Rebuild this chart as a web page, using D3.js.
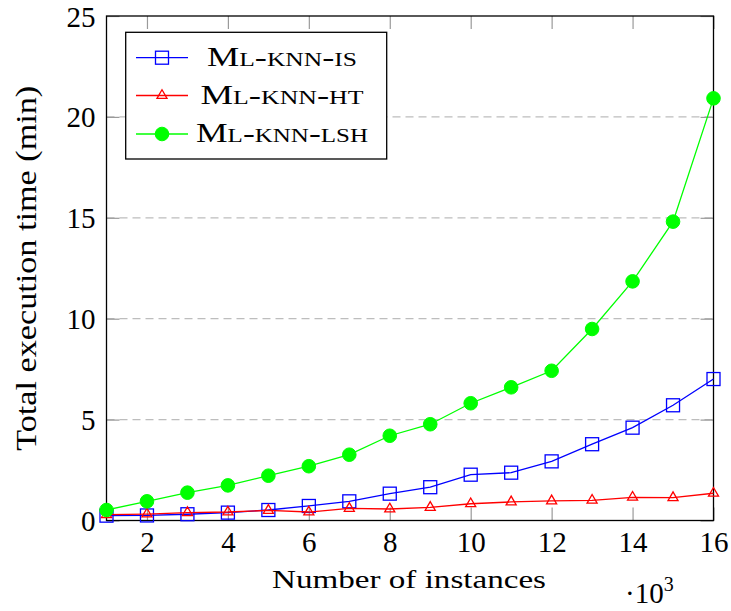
<!DOCTYPE html>
<html>
<head>
<meta charset="utf-8">
<script src="https://cdn.jsdelivr.net/npm/d3@7"></script>
<style>
  html, body { margin: 0; padding: 0; background: #fff; }
  svg { display: block; }
</style>
</head>
<body>
<svg id="chart" width="731" height="611"></svg>
<script>
// ---- Data ----
const instances = [1, 2, 3, 4, 5, 6, 7, 8, 9, 10, 11, 12, 13, 14, 15, 16];
const mlknnIS  = [0.24, 0.25, 0.31, 0.39, 0.52, 0.72, 0.95, 1.33, 1.65, 2.27, 2.37, 2.93, 3.78, 4.60, 5.71, 7.01];
const mlknnHT  = [0.29, 0.32, 0.39, 0.42, 0.50, 0.42, 0.60, 0.57, 0.65, 0.83, 0.92, 0.97, 1.00, 1.15, 1.13, 1.35];
const mlknnLSH = [0.52, 0.95, 1.38, 1.74, 2.22, 2.69, 3.26, 4.20, 4.77, 5.81, 6.60, 7.42, 9.49, 11.85, 14.81, 20.92];
const seriesNames = ["Ml-knn-is", "Ml-knn-ht", "Ml-knn-lsh"];
const xTicks = [2, 4, 6, 8, 10, 12, 14, 16];
const yTicks = [0, 5, 10, 15, 20, 25];
const xLabel = "Number of instances";
const yLabel = "Total execution time (min)";

const FONT = "'Liberation Serif', 'Times New Roman', Tinos, 'DejaVu Serif', 'Noto Serif', serif";

// ---- Layout ----
const svg = d3.select("#chart");
const L = 106.5, R = 713.5, T = 16, B = 520.5;
const x = d3.scaleLinear().domain([1, 16]).range([L, R]);
const y = d3.scaleLinear().domain([0, 25]).range([B, T]);

const series = [
  { name: seriesNames[0], values: mlknnIS,  color: "#0000ff", marker: "square",   textLen: 150 },
  { name: seriesNames[1], values: mlknnHT,  color: "#ff0000", marker: "triangle", textLen: 163 },
  { name: seriesNames[2], values: mlknnLSH, color: "#00ff00", marker: "circle",   textLen: 172 }
];

function txt(sel, size) {
  return sel.attr("font-family", null)
    .style("font-family", FONT)
    .style("font-size", size + "px")
    .style("fill", "#000");
}

// grid lines (dashed)
svg.append("g").selectAll("line")
  .data(yTicks.filter(v => v > 0 && v < 25))
  .join("line")
  .attr("x1", L).attr("x2", R)
  .attr("y1", d => y(d)).attr("y2", d => y(d))
  .attr("stroke", "#bdbdbd").attr("stroke-width", 1.2)
  .attr("stroke-dasharray", "8,5");

// axes with inward ticks
const tickLen = 13;
function styleAxis(g) {
  g.attr("font-family", null).attr("font-size", null);
  g.select(".domain").remove();
  g.selectAll(".tick line").attr("stroke", "#9a9a9a").attr("stroke-width", 1.2);
}
const xBottom = svg.append("g").attr("transform", `translate(0,${B})`)
  .call(d3.axisBottom(x).tickValues(xTicks).tickSize(-tickLen).tickFormat(""))
  .call(styleAxis);
xBottom.selectAll(".tick text").remove();
xBottom.selectAll(".tick").append("text")
  .attr("y", 31).attr("text-anchor", "middle")
  .call(txt, 29)
  .text(d => d);

svg.append("g").attr("transform", `translate(0,${T})`)
  .call(d3.axisTop(x).tickValues(xTicks).tickSize(-tickLen).tickFormat(""))
  .call(styleAxis);

const yLeft = svg.append("g").attr("transform", `translate(${L},0)`)
  .call(d3.axisLeft(y).tickValues(yTicks).tickSize(-tickLen).tickFormat(""))
  .call(styleAxis);
yLeft.selectAll(".tick text").remove();
yLeft.selectAll(".tick").append("text")
  .attr("x", -11).attr("y", 10).attr("text-anchor", "end")
  .call(txt, 29)
  .text(d => d);

svg.append("g").attr("transform", `translate(${R},0)`)
  .call(d3.axisRight(y).tickValues(yTicks).tickSize(-tickLen).tickFormat(""))
  .call(styleAxis);

// frame
svg.append("rect")
  .attr("x", L).attr("y", T).attr("width", R - L).attr("height", B - T)
  .attr("fill", "none").attr("stroke", "#000").attr("stroke-width", 1.3);

// marker drawing
function drawMarker(sel, type, color) {
  if (type === "square") {
    sel.append("rect").attr("x", -6.5).attr("y", -6.5).attr("width", 13).attr("height", 13)
      .attr("fill", "none").attr("stroke", color).attr("stroke-width", 1.3);
  } else if (type === "triangle") {
    const r = 5.8;
    sel.append("path")
      .attr("d", `M0,${-r}L${r * 0.866},${r / 2}L${-r * 0.866},${r / 2}Z`)
      .attr("fill", "none").attr("stroke", color).attr("stroke-width", 1.3);
  } else {
    sel.append("circle").attr("r", 6.8).attr("fill", color).attr("stroke", color);
  }
}

// series lines + markers
const line = d3.line().x((d, i) => x(instances[i])).y(d => y(d));
series.forEach(s => {
  svg.append("path").datum(s.values)
    .attr("d", line).attr("fill", "none")
    .attr("stroke", s.color).attr("stroke-width", 1.3);
  svg.append("g").selectAll("g")
    .data(s.values).join("g")
    .attr("transform", (d, i) => `translate(${x(instances[i])},${y(d)})`)
    .each(function () { drawMarker(d3.select(this), s.marker, s.color); });
});

// legend
const lg = svg.append("g");
lg.append("rect").attr("x", 125.7).attr("y", 32.3).attr("width", 261).attr("height", 126.7)
  .attr("fill", "#fff").attr("stroke", "#000").attr("stroke-width", 1.3);
const rowY = [57.7, 95.5, 134];
series.forEach((s, i) => {
  const g = lg.append("g").attr("transform", `translate(0,${rowY[i]})`);
  g.append("line").attr("x1", 136).attr("x2", 188).attr("y1", 0).attr("y2", 0)
    .attr("stroke", s.color).attr("stroke-width", 1.3);
  const m = g.append("g").attr("transform", "translate(162,0)");
  drawMarker(m, s.marker, s.color);
  g.append("text")
    .attr("x", 282).attr("y", 8).attr("text-anchor", "middle")
    .call(txt, 27).style("font-variant", "small-caps")
    .attr("textLength", s.textLen).attr("lengthAdjust", "spacingAndGlyphs")
    .text(s.name);
});

// axis labels
svg.append("text")
  .attr("x", 272).attr("y", 588)
  .call(txt, 25)
  .attr("textLength", 274).attr("lengthAdjust", "spacingAndGlyphs")
  .text(xLabel);

svg.append("text")
  .attr("transform", `translate(36,${(T + B) / 2}) rotate(-90)`)
  .attr("text-anchor", "middle")
  .call(txt, 30)
  .attr("textLength", 365).attr("lengthAdjust", "spacingAndGlyphs")
  .text(yLabel);

// multiplier
const mult = svg.append("text").attr("x", 625).attr("y", 603).call(txt, 29);
mult.append("tspan").text("·10");
mult.append("tspan").attr("dy", -12).style("font-size", "20px").text("3");
</script>
</body>
</html>
